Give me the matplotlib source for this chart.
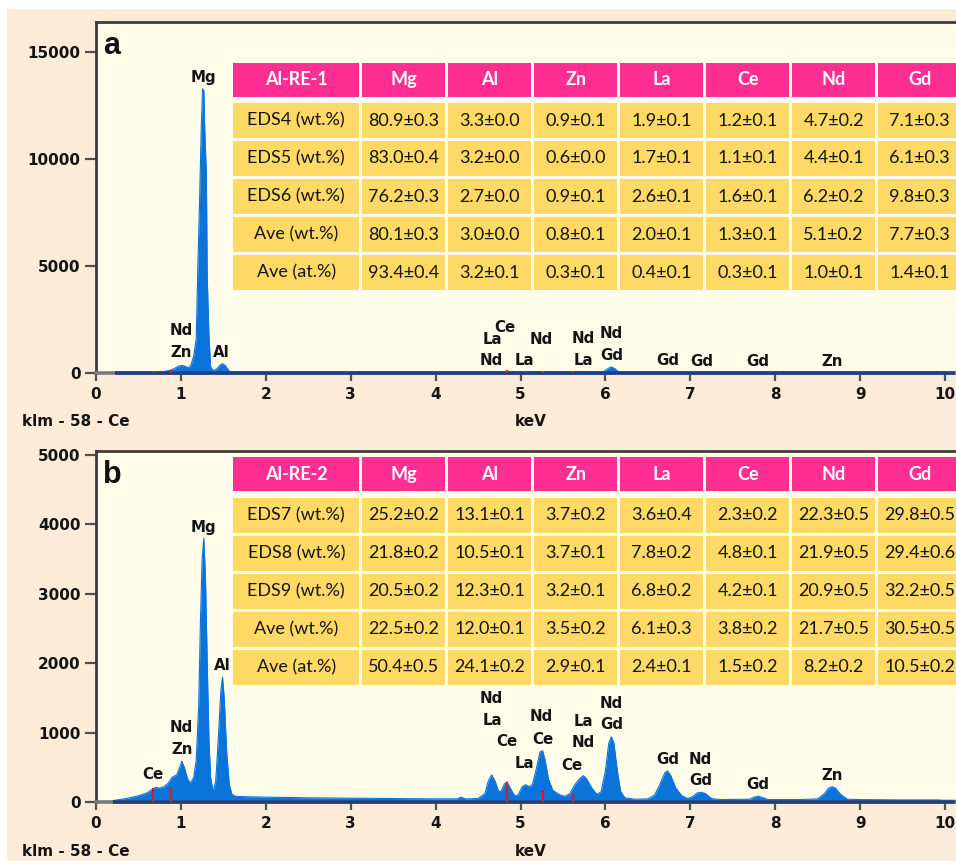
import matplotlib
matplotlib.use("Agg")
import matplotlib.pyplot as plt
from matplotlib.patches import Rectangle

# ---------------- data ----------------
# Panel a spectrum (keV, counts)
energy_a = [0.00, 0.22, 0.48, 0.50, 0.60, 0.70, 0.80, 0.88, 0.92, 0.97, 1.01, 1.05, 1.09, 1.12, 1.15,
            1.18, 1.20, 1.22, 1.24, 1.255, 1.27, 1.28, 1.30, 1.31, 1.33, 1.35, 1.38, 1.42, 1.46,
            1.49, 1.52, 1.55, 1.58, 1.62, 2.00, 3.00, 4.00, 4.60, 4.66, 4.72, 5.00, 5.25, 5.35,
            5.74, 5.85, 5.98, 6.03, 6.07, 6.11, 6.16, 6.30, 6.62, 6.72, 6.85, 7.20, 9.90, 10.12]
counts_a = [0, 10, 20, 30, 40, 60, 80, 150, 220, 330, 370, 330, 250, 400, 800,
            1600, 5000, 8100, 11500, 13300, 13200, 11500, 9300, 4500, 1800, 300, 120, 200, 380,
            450, 380, 200, 60, 40, 35, 30, 30, 40, 60, 40, 40, 70, 40,
            60, 40, 80, 220, 300, 220, 60, 30, 40, 70, 40, 30, 25, 20]

# Panel b spectrum (keV, counts)
energy_b = [0.00, 0.16, 0.20, 0.30, 0.40, 0.50, 0.60, 0.66, 0.70, 0.75, 0.80, 0.85, 0.90, 0.95,
            0.98, 1.01, 1.04, 1.08, 1.11, 1.15, 1.18, 1.21, 1.23, 1.25, 1.27, 1.29, 1.31, 1.33,
            1.35, 1.38, 1.41, 1.44, 1.47, 1.49, 1.51, 1.54, 1.57, 1.60, 1.65, 1.80, 2.00, 2.50,
            3.00, 3.50, 4.00, 4.25, 4.30, 4.35, 4.50, 4.58, 4.62, 4.66, 4.70, 4.74, 4.77, 4.81,
            4.84, 4.88, 4.93, 4.97, 5.02, 5.06, 5.10, 5.14, 5.19, 5.23, 5.26, 5.29, 5.33, 5.38,
            5.45, 5.52, 5.58, 5.64, 5.70, 5.74, 5.78, 5.84, 5.90, 5.95, 6.00, 6.04, 6.07, 6.10,
            6.14, 6.18, 6.23, 6.35, 6.50, 6.58, 6.64, 6.70, 6.73, 6.77, 6.83, 6.90, 6.97, 7.03,
            7.08, 7.13, 7.18, 7.25, 7.35, 7.70, 7.75, 7.80, 7.86, 7.92, 8.30, 8.50, 8.58, 8.63,
            8.67, 8.71, 8.77, 8.85, 9.00, 9.50, 9.90, 10.00, 10.12]
counts_b = [0, 0, 20, 40, 60, 90, 130, 180, 210, 200, 220, 270, 360, 390,
            480, 590, 500, 330, 270, 350, 600, 1400, 2600, 3500, 3800, 3200, 2000, 900,
            350, 150, 300, 900, 1600, 1800, 1500, 700, 250, 110, 80, 75, 70, 60,
            55, 50, 45, 45, 70, 45, 50, 120, 300, 390, 300, 160, 150, 260,
            290, 200, 90, 100, 220, 250, 220, 250, 500, 720, 740, 600, 330, 170,
            110, 80, 120, 250, 340, 380, 330, 200, 110, 150, 450, 850, 940, 850,
            450, 150, 60, 40, 45, 100, 250, 420, 450, 380, 200, 90, 50, 80,
            130, 140, 120, 50, 35, 40, 70, 85, 60, 35, 35, 45, 120, 200,
            220, 200, 110, 40, 35, 30, 30, 25, 25]

# Red KLM marker lines (keV, top counts)
marker_e_a = [0.68, 0.88, 4.84, 5.27, 5.62]
marker_h_a = [120, 150, 150, 130, 110]
marker_e_b = [0.675, 0.88, 4.84, 5.27, 5.615]
marker_h_b = [200, 215, 290, 170, 110]

# Peak labels: (text, keV, counts)
labels_a = [("Mg", 1.26, 13830), ("Nd", 1.00, 2010), ("Zn", 1.00, 980), ("Al", 1.48, 980),
            ("Ce", 4.82, 2160), ("La", 4.67, 1590), ("Nd", 4.66, 575),
            ("Nd", 5.24, 1590), ("La", 5.04, 575), ("Nd", 5.74, 1635), ("La", 5.74, 575),
            ("Nd", 6.07, 1855), ("Gd", 6.07, 840), ("Gd", 6.73, 575), ("Gd", 7.13, 530),
            ("Gd", 7.80, 530), ("Zn", 8.67, 530)]
labels_b = [("Ce", 0.67, 390), ("Nd", 1.00, 1076), ("Zn", 1.01, 750), ("Mg", 1.265, 3958),
            ("Al", 1.49, 1960), ("Nd", 4.66, 1494), ("La", 4.67, 1171), ("Ce", 4.84, 869),
            ("La", 5.05, 558), ("Nd", 5.25, 1229), ("Ce", 5.26, 903), ("La", 5.74, 1157),
            ("Nd", 5.74, 854), ("Ce", 5.61, 533), ("Nd", 6.07, 1422), ("Gd", 6.07, 1110),
            ("Gd", 6.74, 615), ("Nd", 7.12, 615), ("Gd", 7.12, 307), ("Gd", 7.80, 245),
            ("Zn", 8.67, 375)]

yticks_a = [0, 5000, 10000, 15000]
yticks_b = [0, 1000, 2000, 3000, 4000, 5000]
xticks = [0, 1, 2, 3, 4, 5, 6, 7, 8, 9, 10]

# Tables
header_a = ["Al-RE-1", "Mg", "Al", "Zn", "La", "Ce", "Nd", "Gd"]
header_b = ["Al-RE-2", "Mg", "Al", "Zn", "La", "Ce", "Nd", "Gd"]
rowlab_a = ["EDS4 (wt.%)", "EDS5 (wt.%)", "EDS6 (wt.%)", "Ave (wt.%)", "Ave (at.%)"]
rowlab_b = ["EDS7 (wt.%)", "EDS8 (wt.%)", "EDS9 (wt.%)", "Ave (wt.%)", "Ave (at.%)"]
values_a = [["80.9±0.3", "3.3±0.0", "0.9±0.1", "1.9±0.1", "1.2±0.1", "4.7±0.2", "7.1±0.3"],
            ["83.0±0.4", "3.2±0.0", "0.6±0.0", "1.7±0.1", "1.1±0.1", "4.4±0.1", "6.1±0.3"],
            ["76.2±0.3", "2.7±0.0", "0.9±0.1", "2.6±0.1", "1.6±0.1", "6.2±0.2", "9.8±0.3"],
            ["80.1±0.3", "3.0±0.0", "0.8±0.1", "2.0±0.1", "1.3±0.1", "5.1±0.2", "7.7±0.3"],
            ["93.4±0.4", "3.2±0.1", "0.3±0.1", "0.4±0.1", "0.3±0.1", "1.0±0.1", "1.4±0.1"]]
values_b = [["25.2±0.2", "13.1±0.1", "3.7±0.2", "3.6±0.4", "2.3±0.2", "22.3±0.5", "29.8±0.5"],
            ["21.8±0.2", "10.5±0.1", "3.7±0.1", "7.8±0.2", "4.8±0.1", "21.9±0.5", "29.4±0.6"],
            ["20.5±0.2", "12.3±0.1", "3.2±0.1", "6.8±0.2", "4.2±0.1", "20.9±0.5", "32.2±0.5"],
            ["22.5±0.2", "12.0±0.1", "3.5±0.2", "6.1±0.3", "3.8±0.2", "21.7±0.5", "30.5±0.5"],
            ["50.4±0.5", "24.1±0.2", "2.9±0.1", "2.4±0.1", "1.5±0.2", "8.2±0.2", "10.5±0.2"]]

# ---------------- style ----------------
W, H = 956, 861
PEACH = "#FCEBD9"
CREAM = "#FFFDEA"
BLUE = "#0A74DA"
NAVY = "#1E3F86"
PINK = "#FF2E93"
GOLD = "#FFD966"
TXT = "#141414"

fig = plt.figure(figsize=(W / 100, H / 100), dpi=100, facecolor="white")
fig.add_artist(Rectangle((7 / W, 0), (W - 7) / W, (H - 9) / H, transform=fig.transFigure,
                         facecolor=PEACH, edgecolor="none", zorder=-10))


def px_axes(left, top, right, bottom):
    return fig.add_axes([left / W, 1 - bottom / H, (right - left) / W, (bottom - top) / H])


def draw_panel(ax, E, C, me, mh, labels, yticks, ymax, letter):
    ax.set_facecolor(CREAM)
    ax.fill_between(E, C, 0, color=BLUE, lw=0, zorder=2)
    ax.plot(E, C, color=BLUE, lw=0.8, zorder=2)
    start = next(e for e, c in zip(E, C) if c > 0)
    ax.hlines(0, start, E[-1], color=NAVY, lw=2.6, zorder=3, clip_on=False)
    ax.vlines(me, 0, mh, color="#D0202A", lw=1.6, zorder=4)
    for t, x, y in labels:
        ax.text(x, y, t, ha="center", va="center", fontsize=10.8, fontweight="bold",
                color=TXT, family="DejaVu Sans", zorder=5)
    ax.set_xlim(0, (W - 96) / 84.9)
    ax.set_ylim(0, ymax)
    ax.set_xticks(xticks)
    ax.set_yticks(yticks)
    ax.tick_params(axis="x", direction="out", length=6, width=1.6, color="#505050",
                   labelsize=11, pad=4, labelcolor=TXT)
    ax.tick_params(axis="y", direction="out", length=8, width=1.6, color="#505050",
                   labelsize=11, pad=3, labelcolor=TXT)
    for lab in ax.get_xticklabels() + ax.get_yticklabels():
        lab.set_fontweight("bold")
    ax.spines["right"].set_visible(False)
    for s in ("left", "top"):
        ax.spines[s].set_color("#3c3c3c")
        ax.spines[s].set_linewidth(2.0)
    ax.spines["bottom"].set_color("#7a7a7a")
    ax.spines["bottom"].set_linewidth(2.6)
    ax.text(0.008, 0.975, letter, transform=ax.transAxes, ha="left", va="top",
            fontsize=22, fontweight="bold", family="Liberation Sans", color="#111111", zorder=6)


ax_a = px_axes(96, 22, W, 373.3)
draw_panel(ax_a, energy_a, counts_a, marker_e_a, marker_h_a, labels_a, yticks_a,
           (373.3 - 22) / 0.0214, "a")
ax_b = px_axes(96, 451, W, 802)
draw_panel(ax_b, energy_b, counts_b, marker_e_b, marker_h_b, labels_b, yticks_b,
           (802 - 451) / 0.0694, "b")

# bottom captions
for ycap in (421, 851):
    fig.text(22 / W, 1 - ycap / H, "klm - 58 - Ce", ha="left", va="center", fontsize=11,
             fontweight="bold", color=TXT, family="DejaVu Sans")
    fig.text(531 / W, 1 - ycap / H, "keV", ha="center", va="center", fontsize=11,
             fontweight="bold", color=TXT, family="DejaVu Sans")

# tables
col_left = [233.3] + [362 + 86 * k for k in range(7)]
col_w = [126] + [83.3] * 7


def draw_table(header, rowlabs, values, head_top, row_top0):
    def cell(x, y, w, h, color, text, tcolor, weight):
        fig.add_artist(Rectangle((x / W, 1 - (y + h) / H), w / W, h / H, transform=fig.transFigure,
                                 facecolor=color, edgecolor="none", zorder=20))
        fig.text((x + w / 2) / W, 1 - (y + h / 2) / H, text, ha="center", va="center",
                 fontsize=13, fontweight=weight, color=tcolor, family="Lato", zorder=21)

    for j, htxt in enumerate(header):
        cell(col_left[j], head_top, col_w[j], 34, PINK, htxt, "white", "bold")
    for i, rl in enumerate(rowlabs):
        y = row_top0 + 38.0 * i
        cell(col_left[0], y, col_w[0], 35, GOLD, rl, TXT, "normal")
        for j, v in enumerate(values[i]):
            cell(col_left[j + 1], y, col_w[j + 1], 35, GOLD, v, TXT, "normal")


draw_table(header_a, rowlab_a, values_a, 62.7, 103.0)
draw_table(header_b, rowlab_b, values_b, 457.3, 497.8)

fig.savefig("out.png", dpi=100, facecolor=fig.get_facecolor())
